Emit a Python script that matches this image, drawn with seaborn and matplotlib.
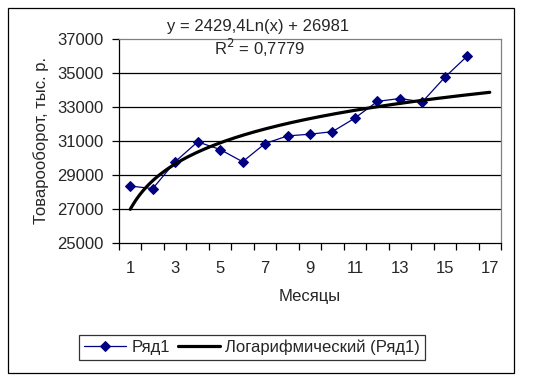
import numpy as np
import pandas as pd
import matplotlib
matplotlib.use("Agg")
import matplotlib.pyplot as plt
import seaborn as sns
from matplotlib.patches import Rectangle

# ---- data ----
months = [1, 2, 3, 4, 5, 6, 7, 8, 9, 10, 11, 12, 13, 14, 15, 16]
turnover = [28350, 28200, 29780, 30950, 30500, 29780, 30850, 31300,
            31400, 31550, 32350, 33330, 33500, 33300, 34750, 36000]
trend_a = 2429.4   # coefficient shown in the chart
trend_b = 26981
trend_months = list(range(1, 18))
y_ticks = [25000, 27000, 29000, 31000, 33000, 35000, 37000]
x_labels = [1, 3, 5, 7, 9, 11, 13, 15, 17]

sns.set_theme(style="white")
plt.rcParams['font.family'] = ['Liberation Sans', 'DejaVu Sans']

df = pd.DataFrame({"Месяцы": months, "val": turnover})
tx = np.linspace(1, 17, 200)
tdf = pd.DataFrame({"x": tx, "y": trend_a * np.log(tx) + trend_b})

fig = plt.figure(figsize=(5.36, 3.81), dpi=100)
ax = fig.add_axes([119/536, 1-243/381, (501-119)/536, (243-39)/381])

fs = 12
for y in y_ticks[1:-1]:
    ax.axhline(y, color="black", lw=0.9, zorder=1)

sns.lineplot(data=df, x="Месяцы", y="val", ax=ax, color="#000080", lw=0.9,
             marker="D", markersize=5.5, markeredgecolor="#000080",
             label="Ряд1", zorder=3)
sns.lineplot(data=tdf, x="x", y="y", ax=ax, color="black", lw=2.3,
             label="Логарифмический (Ряд1)", zorder=4)

ax.set_xlim(0.5, 17.5)
ax.set_ylim(25000, 37000)
ax.set_yticks(y_ticks)
ax.set_yticklabels([str(v) for v in y_ticks], fontsize=fs)
ax.set_xticks(x_labels)
ax.set_xticklabels([str(v) for v in x_labels], fontsize=fs)
ax.set_xticks(np.arange(0.5, 18, 1), minor=True)
ax.tick_params(axis="x", which="major", length=0, pad=13)
ax.tick_params(axis="x", which="minor", length=5, width=0.9, color="black", direction="out", bottom=True)
ax.tick_params(axis="y", which="major", length=5, width=0.9, color="black", direction="out", left=True, pad=6)

ax.set_xlabel("Месяцы", fontsize=fs, labelpad=9)
ax.set_ylabel("Товарооборот, тыс. р.", fontsize=fs, labelpad=6)

for s in ["left", "bottom"]:
    ax.spines[s].set_color("black")
    ax.spines[s].set_linewidth(0.9)
for s in ["top", "right"]:
    ax.spines[s].set_color("#808080")
    ax.spines[s].set_linewidth(0.9)

fig.text(258/536, 1-27/381, "y = 2429,4Ln(x) + 26981", ha="center", va="center", fontsize=fs)
fig.text(260/536, 1-48/381, "R$^2$ = 0,7779", ha="center", va="center", fontsize=fs)

ax.get_legend().remove()
h, l = ax.get_legend_handles_labels()
leg = fig.legend(h, l, ncol=2, loc="center", bbox_to_anchor=(252/536, 1-347.5/381),
                 fontsize=fs, frameon=True, fancybox=False, edgecolor="black",
                 handlelength=2.5, columnspacing=0.5, handletextpad=0.3,
                 borderpad=0.3)
leg.get_frame().set_linewidth(0.9)

fig.patches.append(Rectangle((8/536, 8/381), (514-8)/536, (373-8)/381,
                             transform=fig.transFigure, fill=False,
                             edgecolor="black", lw=0.9))

fig.savefig("out.png", dpi=100)
